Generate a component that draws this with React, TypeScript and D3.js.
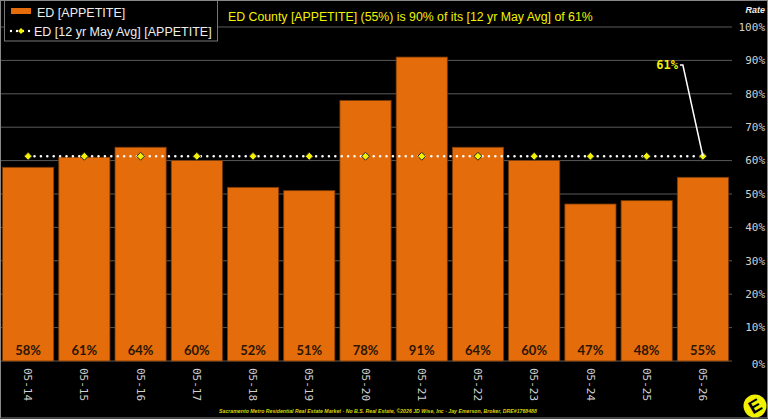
import React from 'react';
import * as d3 from 'd3';

const categories = ['05-14', '05-15', '05-16', '05-17', '05-18', '05-19', '05-20', '05-21', '05-22', '05-23', '05-24', '05-25', '05-26'];
const appetite = [58, 61, 64, 60, 52, 51, 78, 91, 64, 60, 47, 48, 55];
const avg12 = [61.3, 61.3, 61.3, 61.3, 61.3, 61.3, 61.3, 61.3, 61.3, 61.3, 61.3, 61.3, 61.3];
const yTicks = [0, 10, 20, 30, 40, 50, 60, 70, 80, 90, 100];

const W = 768;
const H = 419;
const ORANGE = '#E46C0A';
const YELLOW = '#F2F200';

export default function App() {
  const x = d3.scaleBand<string>().domain(categories).range([0, 731]).paddingInner(0.09).paddingOuter(0.045);
  const y = d3.scaleLinear().domain([0, 100]).range([361, 27]);
  const cx = (c: string) => (x(c) as number) + x.bandwidth() / 2;

  const avgLine = d3.line<number>()
    .x((_, i) => cx(categories[i]))
    .y((d) => y(d));

  const lastX = cx(categories[categories.length - 1]);
  const lastY = y(avg12[avg12.length - 1]);
  const labelY = y(88.6);
  const diamond = d3.symbol().type(d3.symbolDiamond2).size(40)();

  const mono = '"DejaVu Sans Mono", monospace';
  const sans = '"Liberation Sans", Arial, sans-serif';

  return (
    <svg width={W} height={H} style={{ position: 'absolute', left: 0, top: 0, background: '#000' }}>
      <rect x={0} y={0} width={W} height={H} fill="#000" />

      {/* gridlines */}
      {yTicks.map((t) => (
        <line key={t} x1={0} x2={732} y1={y(t)} y2={y(t)} stroke="#5a5a5a" strokeWidth={1} />
      ))}

      {/* bars */}
      {categories.map((c, i) => (
        <rect key={c} x={x(c)} y={y(appetite[i])} width={x.bandwidth()} height={y(0) - y(appetite[i])}
          fill={ORANGE} stroke="#7a3a05" strokeWidth={0.8} />
      ))}
      {categories.map((c, i) => (
        <text key={c} x={cx(c)} y={355} textAnchor="middle" fill="#2b1600"
          style={{ font: `bold 13px ${'Lato, "Open Sans", sans-serif'}` }}>{appetite[i]}%</text>
      ))}

      {/* average line */}
      <path d={avgLine(avg12) || ''} fill="none" stroke="#fff" strokeWidth={2.6}
        strokeDasharray="0 6.4" strokeLinecap="round" />
      {categories.map((c, i) => (
        <path key={c} d={diamond || ''} transform={`translate(${cx(c)},${y(avg12[i])})`}
          fill={YELLOW} stroke="#222" strokeWidth={1} />
      ))}

      {/* annotation */}
      <polyline points={`${lastX - 23},${labelY} ${lastX - 20},${labelY} ${lastX},${lastY}`}
        fill="none" stroke="#fff" strokeWidth={1.5} />
      <text x={lastX - 25} y={labelY + 4} textAnchor="end" fill={YELLOW}
        style={{ font: `bold 12px ${mono}` }}>61%</text>

      {/* x axis labels */}
      {categories.map((c) => (
        <text key={c} transform={`translate(${cx(c)},368) rotate(90)`} dy="0.35em" fill="#d0d0d0"
          style={{ font: `11px ${mono}` }}>{c}</text>
      ))}

      {/* y axis labels */}
      {yTicks.map((t) => (
        <text key={t} x={765} y={y(t)} dy={t === 0 ? '0.6em' : '0.35em'} textAnchor="end" fill="#d0d0d0"
          style={{ font: `11px ${mono}` }}>{t}%</text>
      ))}
      <text x={765} y={13} textAnchor="end" fill="#eee" style={{ font: `italic bold 9px ${sans}` }}>Rate</text>

      {/* title */}
      <text x={228} y={21} fill={YELLOW} style={{ font: `12.3px ${sans}` }}>
        ED County [APPETITE] (55%) is 90% of its [12 yr May Avg] of 61%
      </text>

      {/* legend */}
      <rect x={4.5} y={-1} width={213} height={42} fill="#000" stroke="#777" strokeWidth={1} />
      <rect x={11} y={8} width={20} height={6} fill={ORANGE} />
      <text x={37} y={17} fill="#eee" style={{ font: `12.5px ${sans}` }}>ED [APPETITE]</text>
      <line x1={11} x2={31} y1={31} y2={31} stroke="#fff" strokeWidth={2.4} strokeDasharray="0 6" strokeLinecap="round" />
      <path d={d3.symbol().type(d3.symbolDiamond2).size(22)() || ''} transform="translate(21,31)" fill={YELLOW} />
      <text x={34} y={36} fill="#eee" style={{ font: `12.5px ${sans}` }}>ED [12 yr May Avg] [APPETITE]</text>

      {/* footer */}
      <text x={378} y={413} textAnchor="middle" fill="#d8d800" style={{ font: `italic bold 5.2px ${sans}` }}>
        Sacramento Metro Residential Real Estate Market - No B.S. Real Estate, ©2026 JD Wise, Inc - Jay Emerson, Broker, DRE#1768488
      </text>

      {/* logo */}
      <g transform="translate(755,406)">
        <circle r={11.5} fill={YELLOW} />
        <text transform="rotate(-30)" textAnchor="middle" dy="0.36em" fill="#000"
          style={{ font: `900 18px ${sans}` }}>E</text>
      </g>

      {/* frame */}
      <rect x={0.5} y={0.5} width={W - 1} height={H - 1.5} fill="none" stroke="#888" strokeWidth={1} />
    </svg>
  );
}
